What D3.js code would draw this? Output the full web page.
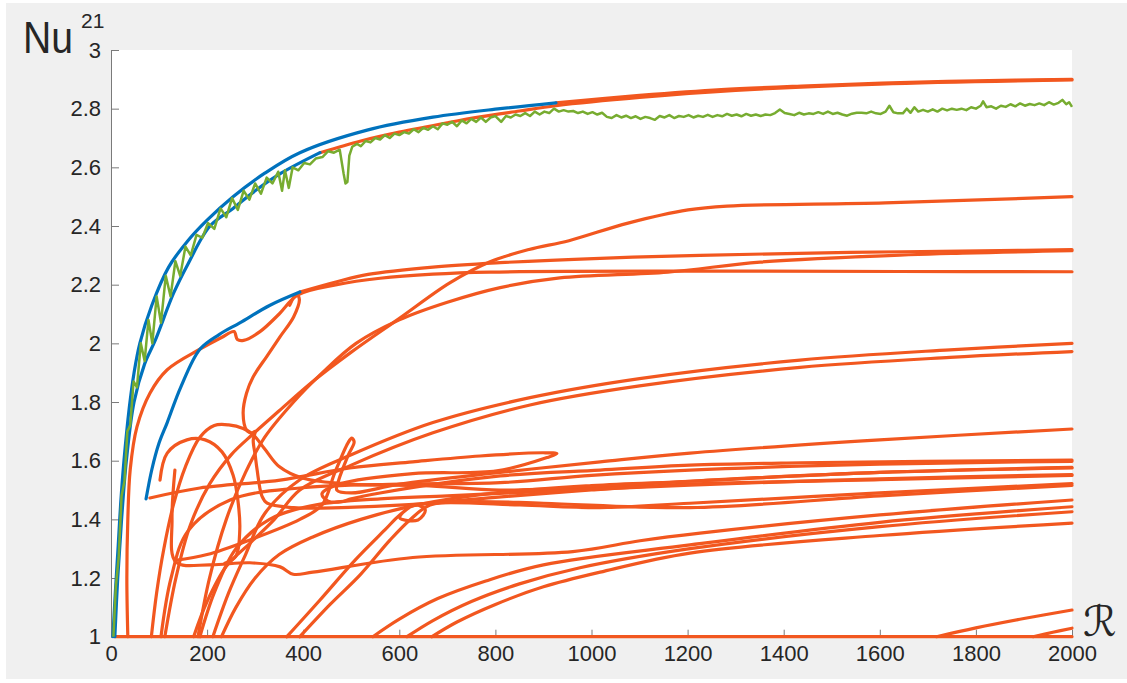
<!doctype html>
<html>
<head>
<meta charset="utf-8">
<script src="https://d3js.org/d3.v7.min.js"></script>
<style>
  body { margin: 0; background: #fff; }
  text { font-family: "Liberation Sans", Arial, sans-serif; fill: #262626; }
  .axis text { font-size: 22px; }
  .axis path, .axis line { stroke: #7a7a7a; }
  .orange { fill: none; stroke: #f2571f; stroke-width: 3.2; stroke-linejoin: round; stroke-linecap: round; }
  .blue { fill: none; stroke: #0072bd; stroke-width: 3.2; stroke-linecap: round; }
  .green { fill: none; stroke: #77ac30; stroke-width: 2.5; stroke-linejoin: round; }
</style>
</head>
<body>
<svg id="chart" width="1127" height="683"></svg>
<script>
// ticks
const xTicks = [0, 200, 400, 600, 800, 1000, 1200, 1400, 1600, 1800, 2000];
const yTicks = [1, 1.2, 1.4, 1.6, 1.8, 2, 2.2, 2.4, 2.6, 2.8, 3];

// blue branches  [R, Nu]
const blueOuter = [[4,1.0],[9,1.15],[15,1.31],[20,1.45],[27,1.6],[38,1.78],[48,1.9],[60,2.0],[85,2.13],[120,2.26],[160,2.35],[200,2.42],[254,2.50],[320,2.58],[393,2.65],[533,2.727],[670,2.771],[810,2.80],[926,2.82]];
const blueInner = [[8,1.0],[14,1.2],[22,1.4],[32,1.6],[48,1.8],[70,1.93],[92,2.01],[130,2.17],[160,2.27],[206,2.40],[254,2.46],[300,2.52],[354,2.58],[435,2.65]];
const blueLower = [[73,1.47],[85,1.57],[100,1.66],[117,1.73],[145,1.85],[185,1.98],[225,2.03],[268,2.07],[331,2.13],[393,2.175]];

// green (simulation)
const greenNu = [[5,1.0],[10,1.17],[16,1.27],[22,1.48],[28,1.53],[34,1.70],[40,1.72],[47,1.87],[54,1.85],[62,2.0],[70,1.94],[78,2.08],[86,2.0],[95,2.16],[104,2.07],[114,2.23],[124,2.16],[134,2.28],[144,2.23],[155,2.33],[166,2.30],[178,2.37],[190,2.36],[202,2.41],[215,2.39],[228,2.46],[240,2.43],[252,2.495],[264,2.455],[276,2.52],[288,2.49],[300,2.545],[312,2.51],[324,2.565],[336,2.545],[348,2.585],[356,2.52],[362,2.59],[370,2.53],[378,2.60],[390,2.59],[402,2.615],[414,2.61],[426,2.63],[440,2.635],[452,2.655],[464,2.65],[476,2.66],[484,2.58],[488,2.545],[492,2.55],[496,2.64],[502,2.67],[512,2.68],[520,2.672],[530,2.69],[540,2.685],[550,2.70],[560,2.695],[570,2.71],[580,2.70],[590,2.715],[600,2.71],[610,2.72],[620,2.715],[630,2.73],[640,2.72],[650,2.735],[660,2.728],[670,2.74],[680,2.73],[690,2.75],[700,2.745],[710,2.755],[720,2.74],[730,2.76],[740,2.75],[750,2.765],[760,2.755],[770,2.77],[780,2.755],[790,2.77],[800,2.775],[812,2.755],[822,2.775],[832,2.77],[842,2.78],[852,2.775],[862,2.785],[872,2.775],[882,2.79],[892,2.78],[902,2.79],[912,2.785],[922,2.80],[932,2.79],[942,2.795],[952,2.79],[962,2.792],[972,2.785],[982,2.79],[992,2.782],[1002,2.788],[1012,2.78],[1022,2.786],[1032,2.772],[1042,2.768],[1052,2.778],[1062,2.77],[1072,2.776],[1082,2.768],[1092,2.774],[1102,2.765],[1112,2.772],[1122,2.768],[1132,2.762],[1142,2.775],[1152,2.77],[1162,2.778],[1172,2.768],[1182,2.775],[1192,2.772],[1202,2.778],[1212,2.77],[1222,2.776],[1232,2.772],[1242,2.779],[1252,2.772],[1262,2.778],[1272,2.774],[1282,2.782],[1292,2.776],[1302,2.78],[1312,2.774],[1322,2.782],[1332,2.776],[1342,2.78],[1352,2.775],[1362,2.78],[1372,2.778],[1382,2.785],[1392,2.797],[1402,2.785],[1412,2.782],[1422,2.778],[1432,2.786],[1442,2.78],[1452,2.784],[1462,2.782],[1472,2.788],[1482,2.782],[1492,2.79],[1502,2.782],[1512,2.786],[1522,2.78],[1532,2.776],[1542,2.783],[1552,2.786],[1562,2.786],[1572,2.784],[1582,2.79],[1592,2.784],[1602,2.782],[1612,2.79],[1620,2.81],[1628,2.788],[1638,2.784],[1648,2.784],[1656,2.80],[1664,2.786],[1672,2.805],[1680,2.79],[1690,2.796],[1700,2.79],[1710,2.798],[1720,2.79],[1730,2.80],[1740,2.794],[1750,2.80],[1760,2.796],[1770,2.80],[1780,2.795],[1790,2.805],[1800,2.80],[1810,2.81],[1815,2.825],[1822,2.805],[1832,2.808],[1842,2.80],[1852,2.81],[1862,2.806],[1872,2.815],[1882,2.808],[1892,2.818],[1902,2.81],[1912,2.816],[1922,2.812],[1932,2.818],[1942,2.812],[1952,2.822],[1962,2.814],[1972,2.82],[1980,2.83],[1988,2.815],[1994,2.822],[2000,2.806]];

// orange branches
const orBase = [[8,1.0],[2000,1.0]];
const orTop1 = [[926,2.82],[1100,2.845],[1270,2.865],[1450,2.878],[1604,2.887],[1800,2.895],[2000,2.90]];
const orTop2 = [[435,2.65],[520,2.69],[600,2.72],[700,2.752],[768,2.772],[850,2.792],[926,2.81],[1100,2.838],[1300,2.862],[1600,2.884],[2000,2.898]];
const orA = [[35,1.0],[33,1.2],[35,1.4],[40,1.57],[54,1.715],[81,1.83],[117,1.91],[185,1.98],[230,2.02],[256,2.04],[263,2.013],[276,2.01],[310,2.04],[350,2.1],[389,2.165],[470,2.2],[560,2.222],[670,2.236],[789,2.243],[1226,2.246],[1642,2.245],[2000,2.244]];
const orLowerCont = [[393,2.175],[470,2.21],[535,2.235],[670,2.26],[810,2.275],[1018,2.29],[1226,2.30],[1538,2.31],[1850,2.316],[2000,2.32]];
const orHook = [[372,2.13],[386,2.168],[392,2.15],[380,2.09],[352,2.023],[324,1.955],[296,1.886],[282,1.83],[275,1.762],[282,1.705],[293,1.694],[300,1.70],[296,1.67],[300,1.62],[304,1.57],[314,1.48],[325,1.455],[380,1.44],[480,1.44],[620,1.45],[800,1.475],[1000,1.50],[1205,1.52],[1600,1.535],[2000,1.55]];
const orE1 = [[112,1.0],[135,1.2],[165,1.38],[205,1.52],[250,1.62],[295,1.69],[350,1.77],[420,1.87],[500,1.97],[601,2.086],[705,2.206],[789,2.278],[870,2.32],[953,2.35],[1076,2.41],[1201,2.455],[1282,2.468],[1611,2.479],[2000,2.50]];
const orE3 = [[181,1.0],[205,1.2],[240,1.4],[280,1.56],[320,1.68],[380,1.8],[440,1.9],[510,2.0],[600,2.08],[700,2.14],[810,2.19],[934,2.223],[1159,2.243],[1351,2.277],[1642,2.301],[2000,2.316]];
const orP200 = [[212,1.0],[245,1.15],[280,1.28],[320,1.42],[393,1.535],[500,1.62],[670,1.73],[872,1.815],[1100,1.88],[1434,1.943],[1746,1.978],[2000,2.0]];
const orP197 = [[172,1.0],[200,1.12],[240,1.24],[290,1.32],[340,1.4],[393,1.50],[500,1.585],[670,1.695],[872,1.79],[1100,1.855],[1434,1.918],[1746,1.952],[2000,1.972]];
const or1708 = [[133,1.26],[200,1.28],[289,1.33],[393,1.40],[439,1.449],[466,1.56],[493,1.66],[501,1.677],[506,1.664],[494,1.62],[474,1.534],[470,1.50],[500,1.49],[601,1.52],[810,1.56],[1018,1.596],[1205,1.626],[1600,1.671],[2000,1.708]];
const orHairpin = [[81,1.473],[185,1.507],[352,1.534],[497,1.575],[628,1.596],[768,1.616],[900,1.627],[928,1.624],[910,1.612],[803,1.565],[628,1.556],[477,1.521],[439,1.487],[452,1.462],[480,1.46],[500,1.47],[560,1.49],[810,1.548],[1018,1.568],[1205,1.585],[1434,1.593],[2000,1.602]];
const or160b = [[104,1.0],[125,1.2],[160,1.36],[248,1.466],[393,1.507],[601,1.52],[810,1.525],[1000,1.55],[1205,1.568],[1600,1.588],[2000,1.598]];
const orArc = [[84,1.0],[95,1.15],[110,1.3],[130,1.45],[155,1.58],[185,1.68],[215,1.72],[245,1.722],[275,1.71],[295,1.69],[320,1.64],[350,1.58],[400,1.54],[500,1.52],[650,1.515],[810,1.50],[1000,1.51],[1205,1.53],[1600,1.56],[2000,1.577]];
const or1553 = [[185,1.0],[215,1.15],[260,1.3],[330,1.4],[430,1.45],[560,1.47],[700,1.48],[920,1.497],[1205,1.517],[1600,1.538],[2000,1.553]];
const orF1 = [[230,1.0],[260,1.1],[300,1.2],[350,1.28],[420,1.34],[520,1.40],[640,1.45],[800,1.49],[1000,1.515],[1205,1.53],[1600,1.56],[2000,1.575]];
const or152a = [[366,1.0],[435,1.125],[508,1.261],[570,1.364],[601,1.415],[633,1.449],[654,1.432],[639,1.398],[601,1.405],[622,1.442],[685,1.456],[851,1.449],[1018,1.44],[1205,1.455],[1600,1.49],[2000,1.522]];
const or152b = [[393,1.0],[456,1.11],[518,1.21],[581,1.33],[622,1.398],[664,1.449],[747,1.46],[900,1.455],[1205,1.44],[1600,1.48],[2000,1.516]];
const orFlat = [[133,1.568],[127,1.398],[135,1.255],[206,1.245],[289,1.252],[352,1.238],[379,1.213],[420,1.22],[628,1.27],[961,1.29],[1101,1.327],[1226,1.353],[1600,1.415],[2000,1.466]];
const orLoop = [[102,1.534],[117,1.626],[158,1.671],[196,1.671],[231,1.63],[254,1.551],[264,1.466],[268,1.364],[260,1.275],[237,1.25]];
const orB1 = [[545,1.0],[600,1.06],[680,1.13],[780,1.19],[900,1.245],[1205,1.313],[1600,1.39],[2000,1.443]];
const orB2 = [[616,1.0],[670,1.055],[750,1.12],[850,1.18],[976,1.235],[1205,1.30],[1600,1.375],[2000,1.426]];
const orB3 = [[668,1.0],[720,1.05],[800,1.11],[900,1.17],[1018,1.22],[1205,1.285],[1600,1.345],[2000,1.387]];
const orB4 = [[1718,1.0],[1800,1.03],[1900,1.062],[2000,1.091]];
const orB5 = [[1919,1.0],[1960,1.015],[2000,1.029]];

const orangeCurves = [orBase, orTop1, orTop2, orA, orLowerCont, orHook, orE1, orE3, orP200, orP197,
  or1708, orHairpin, or160b, orArc, or1553, orF1, or152a, or152b, orFlat, orLoop, orB1, orB2, orB3, orB4, orB5];
const blueCurves = [blueOuter, blueInner, blueLower];

const svg = d3.select('#chart');
svg.append('rect').attr('width', 1127).attr('height', 683).attr('fill', '#fff');
svg.append('rect').attr('x', 6).attr('y', 3).attr('width', 1121).attr('height', 676).attr('fill', '#f0f0f0');

const x = d3.scaleLinear().domain([0, 2000]).range([111, 1072]);
const y = d3.scaleLinear().domain([1, 3]).range([636.7, 50]);

svg.append('rect')
  .attr('x', x(0)).attr('y', y(3))
  .attr('width', x(2000) - x(0)).attr('height', y(1) - y(3))
  .attr('fill', '#fff');

svg.append('g').attr('class', 'axis')
  .attr('transform', `translate(${x(0)},0)`)
  .call(d3.axisLeft(y).tickValues(yTicks).tickSize(-8).tickSizeOuter(0).tickPadding(10)
    .tickFormat(d => String(+d.toFixed(1))));

svg.append('g').attr('class', 'axis')
  .attr('transform', `translate(0,${y(1)})`)
  .call(d3.axisBottom(x).tickValues(xTicks).tickSize(-7).tickSizeOuter(0).tickPadding(9)
    .tickFormat(d3.format('d')));

const line = d3.line().x(d => x(d[0])).y(d => y(d[1])).curve(d3.curveCatmullRom.alpha(0.5));
const lineLin = d3.line().x(d => x(d[0])).y(d => y(d[1]));

const plot = svg.append('g');
plot.selectAll('path.orange').data(orangeCurves).enter()
  .append('path').attr('class', 'orange').attr('d', line);
plot.selectAll('path.blue').data(blueCurves).enter()
  .append('path').attr('class', 'blue').attr('d', line);
plot.append('path').attr('class', 'green').attr('d', lineLin(greenNu));

// labels
svg.append('text').attr('x', 23).attr('y', 53)
  .attr('font-size', 45).attr('textLength', 50).attr('lengthAdjust', 'spacingAndGlyphs')
  .text('Nu');
svg.append('text').attr('x', 81).attr('y', 28).attr('font-size', 21).text('21');
svg.append('text').attr('x', 1083).attr('y', 636)
  .style('font-family', '"DejaVu Serif", "DejaVu Sans", serif')
  .attr('font-size', 42).text('\u211B');
</script>
</body>
</html>
